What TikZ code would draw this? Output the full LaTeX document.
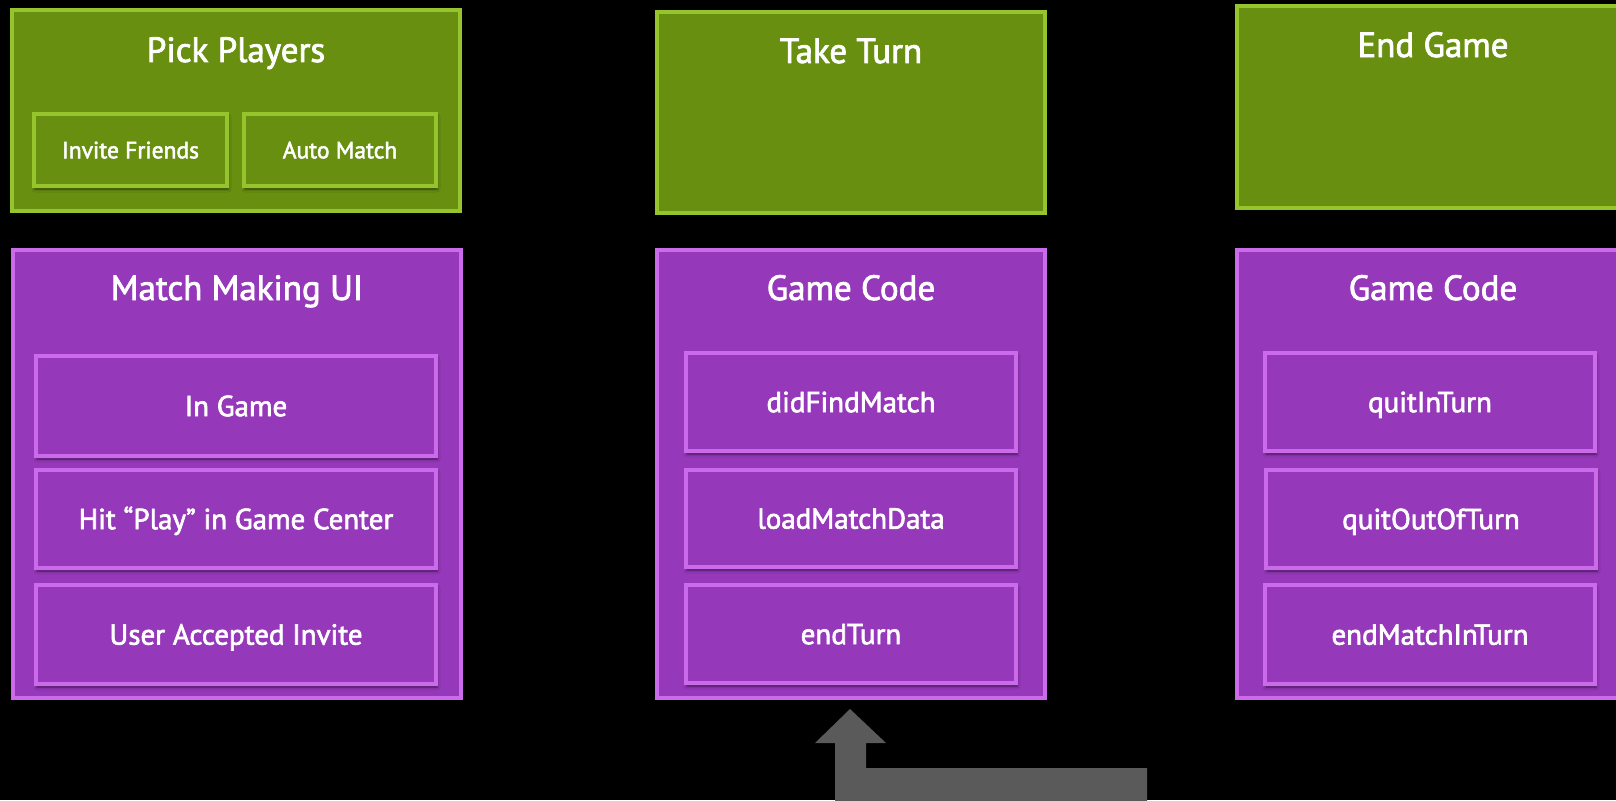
\documentclass[tikz,border=0pt]{standalone}
\usepackage{fontspec}
\setmainfont{PT Sans}[FakeBold=2.2]
\usetikzlibrary{shadows.blur}
\definecolor{gfill}{HTML}{688F10}
\definecolor{gline}{HTML}{96C42C}
\definecolor{pfill}{HTML}{9538BA}
\definecolor{pline}{HTML}{CB6BEB}
\definecolor{arrowgrey}{HTML}{5A5A5A}
\begin{document}
\begin{tikzpicture}[x=1pt,y=-1pt,
  box/.style={draw, line width=4pt, inner sep=0pt, outer sep=0pt, text=white},
  gbox/.style={box, draw=gline, fill=gfill},
  pbox/.style={box, draw=pline, fill=pfill},
  subshadow/.style={blur shadow={shadow xshift=1pt, shadow yshift=-3pt, shadow blur radius=3pt, shadow opacity=55}},
  title/.style={anchor=base, text=white, inner sep=0pt, font=\fontsize{35}{40}\selectfont},
  glabel/.style={gbox, subshadow, font=\fontsize{23.5}{28}\selectfont, text height=16.5pt, text depth=0pt},
  plabel/.style={pbox, subshadow, font=\fontsize{29}{34}\selectfont, text height=20.3pt, text depth=0pt}]
\useasboundingbox (0,0) rectangle (1616,800);
\fill[black] (0,0) rectangle (1616,800);
\clip (0,0) rectangle (1616,800);

% column 1
\node[gbox, minimum width=448pt, minimum height=201pt] (pp) at (236,110.5) {};
\node[title] (ppT) at (236,62) {Pick Players};
\node[glabel, minimum width=193pt, minimum height=72pt] (inv) at (130.5,150) {Invite Friends};
\node[glabel, minimum width=192pt, minimum height=72pt] (auto) at (340,150) {Auto Match};

\node[pbox, minimum width=448pt, minimum height=448pt] (mm) at (237,474) {};
\node[title] (mmT) at (237,300) {Match Making UI};
\node[plabel, minimum width=400pt, minimum height=100pt] (ig) at (236,406) {In Game};
\node[plabel, minimum width=400pt, minimum height=98pt] (hp) at (236,519) {Hit “Play” in Game Center};
\node[plabel, minimum width=400pt, minimum height=99pt] (ua) at (236,634.5) {User Accepted Invite};

% column 2
\node[gbox, minimum width=388pt, minimum height=201pt] (tt) at (851,112.5) {};
\node[title] (ttT) at (851,63) {Take Turn};
\node[pbox, minimum width=388pt, minimum height=448pt] (gc1) at (851,474) {};
\node[title] (gc1T) at (851,300) {Game Code};
\node[plabel, minimum width=330pt, minimum height=98pt] (dfm) at (851,402) {didFindMatch};
\node[plabel, minimum width=330pt, minimum height=97pt] (lmd) at (851,518.5) {loadMatchData};
\node[plabel, minimum width=330pt, minimum height=98pt] (et) at (851,634) {endTurn};

% column 3
\node[gbox, minimum width=392pt, minimum height=202pt] (eg) at (1433,107) {};
\node[title] (egT) at (1433,57) {End Game};
\node[pbox, minimum width=392pt, minimum height=448pt] (gc2) at (1433,474) {};
\node[title] (gc2T) at (1433,300) {Game Code};
\node[plabel, minimum width=330pt, minimum height=98pt] (qit) at (1430,402) {quitInTurn};
\node[plabel, minimum width=330pt, minimum height=98pt] (qot) at (1431,519) {quitOutOfTurn};
\node[plabel, minimum width=330pt, minimum height=99pt] (emt) at (1430,634.5) {endMatchInTurn};

% return arrow
\coordinate (atip) at (850,709);
\fill[arrowgrey] (atip) -- ++(36,34) -- ++(-20,0) -- ++(0,25) -- ++(281,0) -- ++(0,40)
  -- ++(-312,0) -- ++(0,-65) -- ++(-20,0) -- cycle;
\end{tikzpicture}
\end{document}
